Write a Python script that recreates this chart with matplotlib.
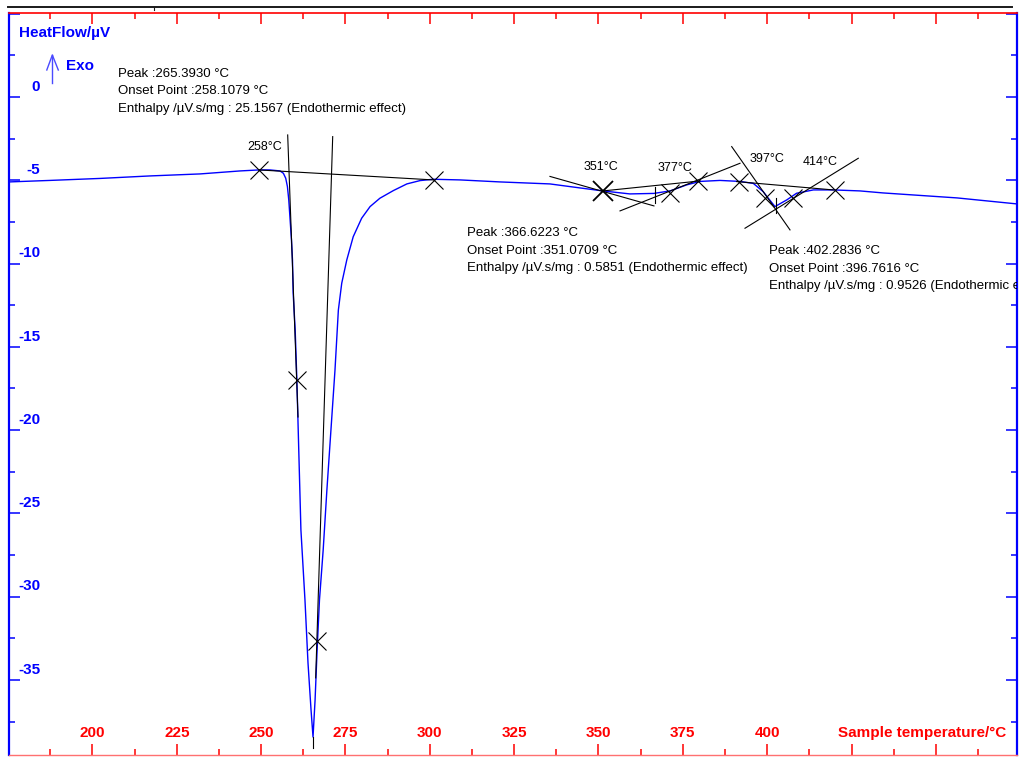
import numpy as np
import matplotlib.pyplot as plt
from matplotlib.lines import Line2D

# DSC heat-flow trace (sample temperature in degC, heat flow in uV)
temp = [175.3, 187.4, 202.3, 217.1, 231.9, 243.8, 249.4, 252.6, 255.6, 256.6,
        257.3, 257.8, 258.2, 258.6, 259.0, 259.3, 259.5, 260.1, 260.6, 261.8,
        263.0, 263.9, 264.8, 265.39, 266.0, 266.6, 267.3, 268.4, 269.5, 270.7,
        271.9, 272.9, 273.9, 275.4, 277.3, 279.8, 282.3, 285.2, 289.2, 293.2,
        297.1, 301.0, 309.0, 320.8, 335.6, 344.5, 351.3, 359.3, 366.4, 371.2,
        376.1, 380.1, 386.0, 391.9, 395.9, 398.8, 400.5, 402.3, 405.8, 408.7,
        413.7, 419.6, 427.5, 434.3, 456.3, 474.0]
heatflow = [-5.10, -5.01, -4.89, -4.74, -4.62, -4.44, -4.38, -4.38, -4.44, -4.58,
            -4.88, -5.38, -6.18, -7.38, -8.58, -9.78, -11.76, -13.99, -16.99, -25.99,
            -30.19, -33.97, -36.79, -38.42, -36.19, -33.19, -30.19, -27.19, -23.59, -19.99,
            -16.39, -12.79, -11.18, -9.78, -8.39, -7.28, -6.58, -6.08, -5.62, -5.22,
            -5.02, -4.94, -4.98, -5.10, -5.22, -5.46, -5.64, -5.82, -5.79, -5.64,
            -5.28, -5.07, -5.01, -5.07, -5.19, -5.68, -6.12, -6.58, -6.18, -5.78,
            -5.58, -5.58, -5.64, -5.76, -6.06, -6.42]

# baselines / tangents drawn by the peak integration: ((T0, T1), (HF0, HF1))
construction = [
    ((249.35, 301.10), (-4.38, -4.98)),
    ((257.88, 260.94), (-2.28, -19.21)),
    ((271.22, 266.18), (-2.38, -34.87)),
    ((265.39, 265.39), (-38.42, -39.10)),
    ((335.62, 366.44), (-4.77, -6.54)),
    ((351.33, 380.08), (-5.64, -5.04)),
    ((366.73, 366.73), (-5.38, -6.34)),
    ((356.38, 391.94), (-6.84, -3.98)),
    ((389.48, 406.76), (-2.98, -7.98)),
    ((393.42, 427.00), (-7.88, -3.68)),
    ((390.96, 419.59), (-5.08, -5.58)),
    ((402.52, 402.52), (-6.08, -6.98)),
]
cross_t = [249.47, 260.64, 266.48, 301.24, 371.18, 379.58, 391.73, 399.35, 407.74, 420.09]
cross_hf = [-4.38, -16.99, -32.65, -4.98, -5.78, -5.02, -5.08, -6.08, -6.08, -5.58]
onset_cross = (351.42, -5.64)

# temperature tags above the markers
tag_text = ['258°C', '351°C', '377°C', '397°C', '414°C']
tag_t = [251.2, 350.65, 372.7, 399.85, 415.85]
tag_hf = [-3.02, -4.18, -4.28, -3.74, -3.88]

# result blocks (left T, first-line HF)
results = [
    (['Peak :265.3930 °C', 'Onset Point :258.1079 °C',
      'Enthalpy /µV.s/mg : 25.1567 (Endothermic effect)'], 207.6, 1.40),
    (['Peak :366.6223 °C', 'Onset Point :351.0709 °C',
      'Enthalpy /µV.s/mg : 0.5851 (Endothermic effect)'], 311.0, -8.16),
    (['Peak :402.2836 °C', 'Onset Point :396.7616 °C',
      'Enthalpy /µV.s/mg : 0.9526 (Endothermic effect)'], 400.5, -9.24),
]
line_step = 1.06

xticks = [200, 225, 250, 275, 300, 325, 350, 375, 400]
yticks = [0, -5, -10, -15, -20, -25, -30, -35]

BLUE = '#0000ff'
RED = '#ff0000'

plt.rcParams['font.family'] = ['Liberation Sans', 'DejaVu Sans']

fig = plt.figure(figsize=(10.21, 7.58), dpi=100)
ax = fig.add_axes([9 / 1021, 3 / 758, 1008 / 1021, 742 / 758])
ax.set_xlim(175.28, 474.04)
ax.set_ylim(-39.50, 5.04)

ax.plot(temp, heatflow, color=BLUE, lw=1.0, zorder=2)
for (tx, hy) in construction:
    ax.plot(tx, hy, color='black', lw=0.8, zorder=3)
ax.plot(cross_t, cross_hf, ls='none', marker='x', ms=13, mew=0.8, color='black', zorder=4)
ax.plot(*onset_cross, marker='x', ms=15, mew=1.3, color='black', zorder=4)

for s, t, h in zip(tag_text, tag_t, tag_hf):
    ax.text(t, h, s, fontsize=9, ha='center', va='center')

for lines, t0, h0 in results:
    for i, s in enumerate(lines):
        ax.text(t0, h0 - i * line_step, s, fontsize=9.5, ha='left', va='center', clip_on=True)

# axes frame and ticks
ax.set_xticks(np.arange(200, 451, 25))
ax.set_xticks(np.arange(187.5, 470, 25), minor=True)
ax.set_yticks(np.arange(-35, 6, 5))
ax.set_yticks(np.arange(-37.5, 5, 5), minor=True)
ax.tick_params(labelbottom=False, labelleft=False)
ax.tick_params(axis='x', which='both', direction='in', top=True, bottom=True, color=RED, width=1.1)
ax.tick_params(axis='y', which='both', direction='in', left=True, right=True, color=BLUE, width=1.1)
ax.tick_params(which='major', length=7.9)
ax.tick_params(which='minor', length=4.3)
for side in ['left', 'right']:
    ax.spines[side].set_color(BLUE)
    ax.spines[side].set_linewidth(1.6)
ax.spines['top'].set_color(RED)
ax.spines['top'].set_linewidth(1.2)
ax.spines['bottom'].set_color('#ff7070')
ax.spines['bottom'].set_linewidth(1.0)

for v in xticks:
    ax.annotate(str(v), xy=(v, 0), xycoords=('data', 'axes fraction'), xytext=(0, 15.8),
                textcoords='offset points', ha='center', va='center',
                fontsize=11, fontweight='bold', color=RED)
ax.annotate('Sample temperature/°C', xy=(0.8224, 0), xycoords='axes fraction', xytext=(0, 15.8),
            textcoords='offset points', ha='left', va='center',
            fontsize=11, fontweight='bold', color=RED)
for v in yticks:
    ax.annotate(str(v), xy=(0.0308, v), xycoords=('axes fraction', 'data'), xytext=(0, 7.4),
                textcoords='offset points', ha='right', va='center',
                fontsize=11, fontweight='bold', color=BLUE)

ax.text(0.0099, 0.9730, 'HeatFlow/µV', transform=ax.transAxes, ha='left', va='center',
        fontsize=11, fontweight='bold', color=BLUE)
ax.text(0.0565, 0.9286, 'Exo', transform=ax.transAxes, ha='left', va='center',
        fontsize=11, fontweight='bold', color=BLUE)
# open "Exo" arrow: shaft plus two head strokes
arrow_kw = dict(transform=ax.transAxes, color='#4a4aff', lw=1.0, clip_on=False)
ax.plot([0.0430, 0.0430], [0.9057, 0.9434], **arrow_kw)
ax.plot([0.0375, 0.0430, 0.0489], [0.9232, 0.9434, 0.9232], **arrow_kw)

# outer frame line above the plot
fig.add_artist(Line2D([8 / 1021, 1012 / 1021], [1 - 7 / 758, 1 - 7 / 758], color='#1a1a1a', lw=1.4))
fig.add_artist(Line2D([154 / 1021, 154 / 1021], [1 - 7 / 758, 1 - 10 / 758], color='#1a1a1a', lw=0.8))

fig.savefig('out.png', dpi=100)
